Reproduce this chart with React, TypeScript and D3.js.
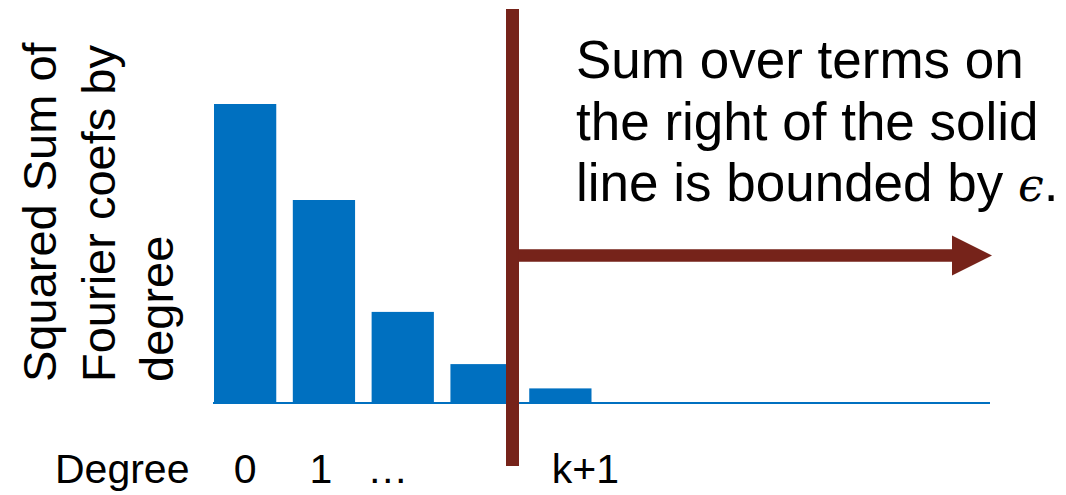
import React from "react";
import * as d3 from "d3";

const categories = ["d0", "d1", "d2", "dk", "dk1"];
const values = [100, 68, 30.7, 13.3, 5.2];
const tickLabels = ["0", "1", "…", "", "k+1"];
const yLabelLines = ["Squared Sum of", "Fourier coefs by", "degree"];
const noteLines = ["Sum over terms on", "the right of the solid", "line is bounded by "];

const W = 1066;
const H = 495;
const BLUE = "#0070C0";
const RED = "#76231A";
const FONT = "'Liberation Sans', Arial, Helvetica, sans-serif";

export default function App() {
  const x = d3
    .scaleBand<string>()
    .domain(categories)
    .range([214, 591.5])
    .paddingInner(0.21)
    .paddingOuter(0);
  const y = d3.scaleLinear().domain([0, 100]).range([404, 104]);

  const baseY = y(0);
  const lineX = 512.5;
  const arrowY = 255.5;
  const tickOffsets = [0, -3, -15, 0, 25];

  return (
    <svg
      width={W}
      height={H}
      style={{ position: "absolute", left: 0, top: 0, background: "#fff" }}
      fontFamily={FONT}
    >
      {/* bars */}
      {categories.map((c, i) => (
        <rect
          key={c}
          x={x(c)}
          y={y(values[i])}
          width={x.bandwidth()}
          height={baseY - y(values[i])}
          fill={BLUE}
        />
      ))}
      {/* baseline */}
      <line x1={213} x2={990} y1={baseY - 1} y2={baseY - 1} stroke={BLUE} strokeWidth={2} />

      {/* vertical threshold line */}
      <rect x={lineX - 6.5} y={9} width={13} height={457} fill={RED} />

      {/* arrow */}
      <rect x={lineX + 6} y={arrowY - 6.25} width={952 - lineX - 6} height={12.5} fill={RED} />
      <path
        d={`M952,${arrowY - 20} L992,${arrowY} L952,${arrowY + 20} Z`}
        fill={RED}
      />

      {/* y label (rotated) */}
      <g>
        {yLabelLines.map((t, i) => (
          <text
            key={t}
            transform={`translate(${56 + i * 58.5},382) rotate(-90)`}
            fontSize={47}
            fill="#000"
          >
            {t}
          </text>
        ))}
      </g>

      {/* x labels */}
      <text x={55} y={483} fontSize={41} fill="#000">
        Degree
      </text>
      {categories.map((c, i) =>
        tickLabels[i] ? (
          <text
            key={"t" + c}
            x={(x(c) as number) + x.bandwidth() / 2 + tickOffsets[i]}
            y={483}
            fontSize={41}
            textAnchor="middle"
            fill="#000"
          >
            {tickLabels[i]}
          </text>
        ) : null
      )}

      {/* note text */}
      {noteLines.map((t, i) => (
        <text key={t} x={576} y={78 + i * 61.5} fontSize={53} fill="#000">
          {t}
          {i === noteLines.length - 1 ? (
            <>
              <tspan fontFamily="'DejaVu Serif', serif" fontStyle="italic" fontSize={46}>
                ϵ
              </tspan>
              <tspan>.</tspan>
            </>
          ) : null}
        </text>
      ))}
    </svg>
  );
}
